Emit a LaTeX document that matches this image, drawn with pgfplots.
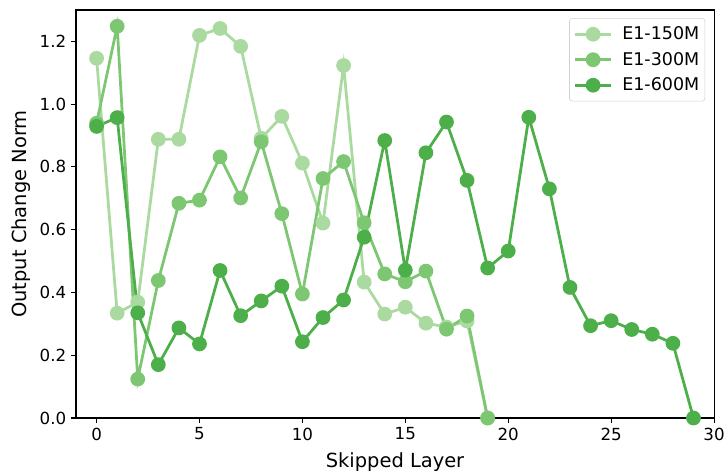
\documentclass[border=0pt]{standalone}
\usepackage{fontspec}
\setmainfont{DejaVu Sans}
\usepackage{pgfplots}
\pgfplotsset{compat=1.18}
\definecolor{cA}{RGB}{170,218,160}
\definecolor{cB}{RGB}{125,199,115}
\definecolor{cC}{RGB}{77,175,74}
\begin{document}
\begin{tikzpicture}
\begin{axis}[
  scale only axis,
  width=459.4pt, height=293.8pt,
  xmin=-1, xmax=30, ymin=0, ymax=1.3,
  xtick={0,5,10,15,20,25,30},
  ytick={0,0.2,0.4,0.6,0.8,1.0,1.2},
  yticklabel style={/pgf/number format/.cd, fixed, fixed zerofill, precision=1},
  /pgf/number format/assume math mode=true,
  tick label style={font=\fontsize{12}{14}\selectfont},
  tick align=outside,
  major tick length=3.5pt,
  tick style={black, line width=0.8pt},
  xtick pos=bottom, ytick pos=left,
  axis line style={black, line width=0.8pt},
  xlabel={Skipped Layer},
  ylabel={Output Change Norm},
  xlabel style={yshift=-2pt},
  label style={font=\fontsize{14}{16}\selectfont},
  legend style={at={(0.986,0.98)}, anchor=north east, draw=black!18, rounded corners=2pt,
    font=\fontsize{12.6}{14}\selectfont, row sep=5.5pt, inner xsep=3pt, inner ysep=5pt,
    nodes={inner sep=1pt}},
  legend cell align=left,
  legend image code/.code={
    \draw[#1, mark repeat=2, mark phase=2] plot coordinates {(0pt,0pt) (13pt,0pt) (26pt,0pt)};
  },
  every axis plot/.append style={line width=2pt, mark=*, mark size=4.3pt, mark options={solid, draw=none}},
]
\addplot[color=cA] coordinates {
(0,1.146)(1,0.334)(2,0.369)(3,0.888)(4,0.888)(5,1.219)(6,1.241)(7,1.184)(8,0.891)(9,0.961)
(10,0.812)(11,0.621)(12,1.123)(13,0.433)(14,0.331)(15,0.353)(16,0.302)(17,0.290)(18,0.309)(19,0.0)};
\addlegendentry{\hspace{6pt}E1-150M}
\addplot[color=cB] coordinates {
(0,0.939)(1,1.248)(2,0.124)(3,0.438)(4,0.684)(5,0.694)(6,0.832)(7,0.701)(8,0.880)(9,0.651)
(10,0.395)(11,0.763)(12,0.817)(13,0.622)(14,0.459)(15,0.434)(16,0.468)(17,0.283)(18,0.325)(19,0.0)};
\addlegendentry{\hspace{6pt}E1-300M}
\addplot[color=cC] coordinates {
(0,0.929)(1,0.957)(2,0.335)(3,0.170)(4,0.287)(5,0.236)(6,0.470)(7,0.326)(8,0.373)(9,0.420)
(10,0.243)(11,0.320)(12,0.376)(13,0.576)(14,0.884)(15,0.471)(16,0.845)(17,0.943)(18,0.757)(19,0.478)
(20,0.532)(21,0.958)(22,0.730)(23,0.416)(24,0.294)(25,0.310)(26,0.282)(27,0.267)(28,0.238)(29,0.0)};
\addlegendentry{\hspace{6pt}E1-600M}
\coordinate (SW) at (rel axis cs:0,0);
\end{axis}
\pgfresetboundingbox
\path[use as bounding box] ([shift={(-54.72pt,-37.44pt)}]SW) rectangle ([shift={(466.56pt,300.96pt)}]SW);
\end{tikzpicture}
\end{document}
